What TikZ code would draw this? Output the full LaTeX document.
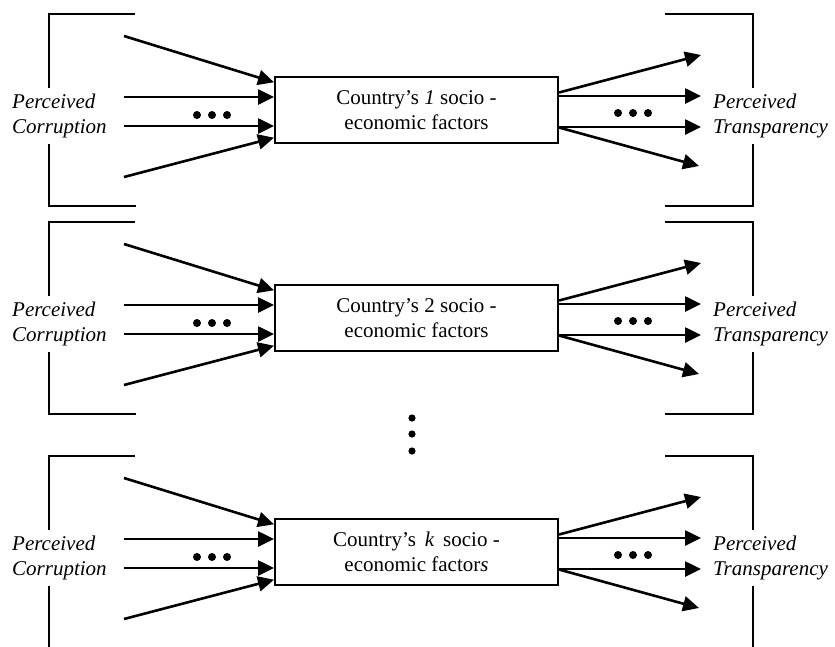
\documentclass[tikz,border=0pt]{standalone}
\usepackage{fontspec}
\setmainfont{Liberation Serif}
\usetikzlibrary{arrows.meta}

\begin{document}
\begin{tikzpicture}[x=1pt,y=-1pt,
  font=\fontsize{21}{24.5}\selectfont,
  arr/.style={line width=2.6pt,-{Triangle[length=16pt,width=15pt]}},
  brk/.style={line width=1.7pt},
  factor/.style={draw,line width=2pt,minimum width=283pt,minimum height=66pt,align=center,inner sep=0pt},
  side/.style={fill=white,align=left,font=\fontsize{21}{24.5}\selectfont\itshape,inner xsep=4pt,inner ysep=6pt}]
\useasboundingbox (0,0) rectangle (835,646);
\clip (0,0) rectangle (835,646);

\foreach \r/\dy/\txt in {1/0/{Country’s \textit{1} socio -\\economic factors},
                         2/208/{Country’s 2 socio -\\economic factors},
                         3/442/{Country’s \,\textit{k}\, socio -\\economic factor\textit{s}}} {
\begin{scope}[shift={(0,\dy)}]
% brackets
\path[draw,brk] (135,14) -- (49,14) -- (49,206) -- (136,206);
\path[draw,brk] (665,14) -- (753,14) -- (753,206) -- (665,206);

\node[side,anchor=west] (pc\r) at (8,116) {Perceived\\Corruption};
\node[side,anchor=west] (pt\r) at (709,116) {Perceived\\Transparency};
\node[factor] (box\r) at (416.5,110) {\txt};

\coordinate (in\r-1) at (124,36);
\coordinate (in\r-2) at (124,97);
\coordinate (in\r-3) at (124,126);
\coordinate (in\r-4) at (124,177);
\coordinate (out\r-1) at (701,55);
\coordinate (out\r-2) at (701,96);
\coordinate (out\r-3) at (701,127);
\coordinate (out\r-4) at (699,166);

\path[draw,arr] (in\r-1) -- (box\r.169);
\path[draw,arr] (in\r-2) -- (box\r.west |- in\r-2);
\path[draw,arr] (in\r-3) -- (box\r.west |- in\r-3);
\path[draw,arr] (in\r-4) -- (box\r.191);
\path[draw,arr] (box\r.7) -- (out\r-1);
\path[draw,arr] (box\r.east |- out\r-2) -- (out\r-2);
\path[draw,arr] (box\r.east |- out\r-3) -- (out\r-3);
\path[draw,arr] (box\r.353) -- (out\r-4);

% dots
\foreach \i in {-1,0,1} {
  \fill (212+15*\i,115) circle (4);
  \fill (633+15*\i,113) circle (4);
}
\end{scope}
}

% more rows
\fill (412,418) circle (3.6);
\fill (412,434) circle (3.6);
\fill (412,451) circle (3.6);
\end{tikzpicture}
\end{document}
